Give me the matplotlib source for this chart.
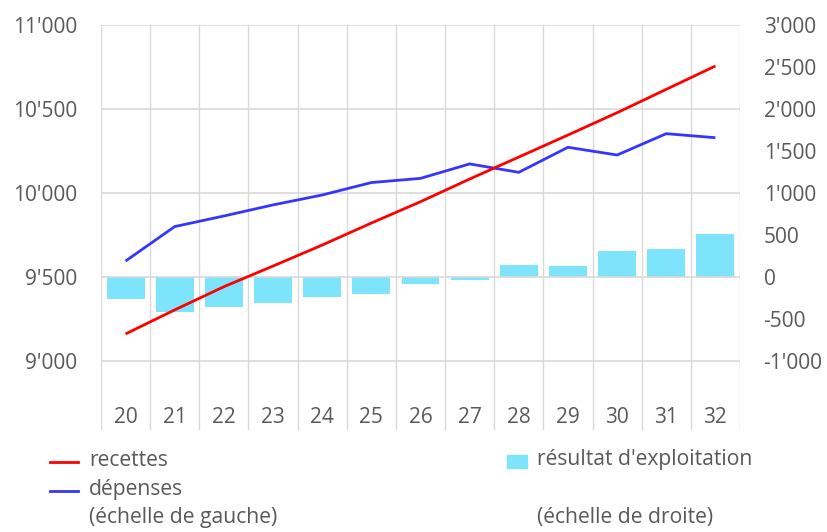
import numpy as np
import matplotlib
matplotlib.use('Agg')
import matplotlib.pyplot as plt
from matplotlib.lines import Line2D
from matplotlib.patches import Rectangle
from matplotlib.ticker import FuncFormatter

plt.rcParams['font.family'] = ['Open Sans', 'DejaVu Sans']

# data
years = [20, 21, 22, 23, 24, 25, 26, 27, 28, 29, 30, 31, 32]
recettes = [9161, 9304, 9442, 9565, 9690, 9821, 9948, 10083, 10214, 10345, 10478, 10617, 10756]
depenses = [9595, 9800, 9863, 9929, 9988, 10062, 10087, 10173, 10123, 10272, 10226, 10353, 10329]
resultat = [-262, -413, -353, -306, -242, -206, -83, -36, 139, 131, 310, 329, 512]
left_ticks = [9000, 9500, 10000, 10500, 11000]
right_ticks = [-1000, -500, 0, 500, 1000, 1500, 2000, 2500, 3000]

grey = '#595959'
grid_col = '#d9d9d9'
fs = 15

def swiss(v, pos=None):
    return f"{v:,.0f}".replace(',', "'")

fig = plt.figure(figsize=(8.27, 5.32), dpi=100)
ax = fig.add_axes([101/827, 102/532, 639/827, 405/532])
ax2 = ax.twinx()
ax.set_zorder(ax2.get_zorder() + 1)
ax.patch.set_visible(False)

x = np.arange(len(years))
ax2.bar(x, resultat, width=0.77, color='#7ee4fc', zorder=2)
ax.plot(x, depenses, color='#3535ff', lw=2.0, solid_capstyle='butt', zorder=3)
ax.plot(x, recettes, color='#ff0000', lw=2.0, solid_capstyle='butt', zorder=4)

ax.set_xlim(-0.5, len(years) - 0.5)
ax.set_ylim(8589, 11000)
ax2.set_ylim(-1821, 3000)

ax.set_yticks(left_ticks)
ax2.set_yticks(right_ticks)
ax.yaxis.set_major_formatter(FuncFormatter(swiss))
ax2.yaxis.set_major_formatter(FuncFormatter(swiss))
ax.tick_params(axis='y', length=0, pad=17, labelsize=fs, labelcolor=grey)
ax2.tick_params(axis='y', length=0, pad=17, labelsize=fs, labelcolor=grey)

ax.set_xticks(x)
ax.set_xticklabels([])
ax.set_xticks(np.arange(len(years) + 1) - 0.5, minor=True)
ax.tick_params(axis='x', which='both', length=0)
for xi, yr in zip(x, years):
    ax.text(xi, 0.031, str(yr), transform=ax.get_xaxis_transform(),
            ha='center', va='center', fontsize=fs, color=grey)

ax.grid(axis='y', which='major', color=grid_col, lw=1.2, zorder=0)
ax.grid(axis='x', which='minor', color=grid_col, lw=1.0, zorder=0)
ax.grid(axis='x', which='major', visible=False)
for a in (ax, ax2):
    for s in a.spines.values():
        s.set_visible(False)

# legend drawn by hand to match layout
W, H = 827, 532
def fx(px):
    return px / W
def fy(py):
    return (H - py) / H

lfs = 15.2
fig.add_artist(Line2D([fx(50), fx(78)], [fy(462), fy(462)], color='#ff0000', lw=2.0,
                      transform=fig.transFigure))
fig.add_artist(Line2D([fx(50), fx(78)], [fy(491), fy(491)], color='#3535ff', lw=2.0,
                      transform=fig.transFigure))
fig.add_artist(Rectangle((fx(507), fy(468)), fx(20), 13 / H, color='#7ee4fc',
                         transform=fig.transFigure))
fig.text(fx(89), fy(460), 'recettes', fontsize=lfs, color=grey, va='center')
fig.text(fx(89), fy(490), 'dépenses', fontsize=lfs, color=grey, va='center')
fig.text(fx(89), fy(518), '(échelle de gauche)', fontsize=lfs, color=grey, va='center')
fig.text(fx(537), fy(460), "résultat d'exploitation", fontsize=lfs, color=grey, va='center')
fig.text(fx(537), fy(518), '(échelle de droite)', fontsize=lfs, color=grey, va='center')

fig.savefig('out.png', dpi=100)
